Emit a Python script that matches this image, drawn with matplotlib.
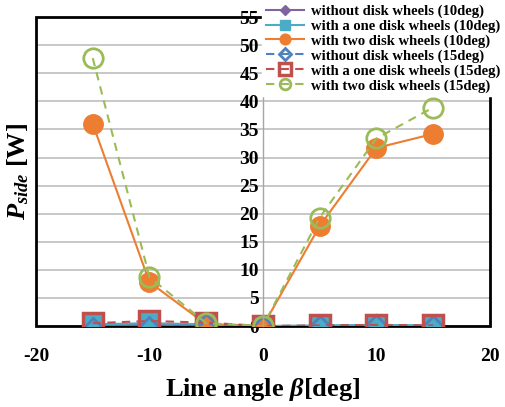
#!/usr/bin/env python3
"""Side power vs line angle for the disk-wheel configurations."""

import matplotlib

matplotlib.use("Agg")
import matplotlib.pyplot as plt
from matplotlib.patches import Rectangle

plt.rcParams["font.family"] = "Liberation Serif"
plt.rcParams["font.weight"] = "bold"
plt.rcParams["axes.labelweight"] = "bold"
plt.rcParams["axes.unicode_minus"] = False
plt.rcParams["mathtext.fontset"] = "custom"
plt.rcParams["mathtext.rm"] = "Liberation Serif:bold"
plt.rcParams["mathtext.it"] = "Liberation Serif:italic:bold"
plt.rcParams["mathtext.bf"] = "Liberation Serif:bold"

# line angle [deg]
angle = [-15, -10, -5, 0, 5, 10, 15]

# P_side [W]
without_10 = [0.1, 0.2, 0.2, 0.0, 0.0, 0.1, 0.0]
one_10 = [0.3, 0.5, 0.3, 0.0, 0.1, 0.2, 0.1]
two_10 = [36.0, 7.8, 0.3, 0.0, 17.8, 31.7, 34.2]
without_15 = [-0.3, -0.2, 0.3, 0.0, 0.0, 0.1, 0.0]
one_15 = [0.5, 0.9, 0.6, 0.0, 0.1, 0.2, 0.1]
two_15 = [47.7, 8.7, 0.5, 0.0, 19.3, 33.4, 38.9]

labels = [
    "without disk wheels (10deg)",
    "with a one disk wheels (10deg)",
    "with two disk wheels (10deg)",
    "without disk wheels (15deg)",
    "with a one disk wheels (15deg)",
    "with two disk wheels (15deg)",
]

x_ticks = [-20, -10, 0, 10, 20]
y_ticks = [0, 5, 10, 15, 20, 25, 30, 35, 40, 45, 50, 55]

fig = plt.figure(figsize=(5.05, 4.07), dpi=100)
ax = fig.add_axes([0.0713, 0.199, 0.8987, 0.759])

ms = 14
ax.plot(angle, without_10, color="#8064A2", lw=1.5, marker="D", ms=ms * 0.6,
        label=labels[0])
ax.plot(angle, one_10, color="#4BACC6", lw=1.5, marker="s", ms=ms,
        label=labels[1])
ax.plot(angle, two_10, color="#ED7D31", lw=1.5, marker="o", ms=ms,
        label=labels[2])
ax.plot(angle, without_15, color="#4F81BD", lw=1.5, ls=(0, (4, 3)), marker="D",
        ms=ms * 0.75, mfc="none", mew=2, label=labels[3])
ax.plot(angle, one_15, color="#C0504D", lw=1.5, ls=(0, (4, 3)), marker="s",
        ms=ms + 1, mfc="none", mew=2.5, label=labels[4])
ax.plot(angle, two_15, color="#9BBB59", lw=1.5, ls=(0, (4, 3)), marker="o",
        ms=ms, mfc="none", mew=2, label=labels[5])

ax.set_xlim(-20, 20)
ax.set_ylim(0, 55)
ax.set_xticks(x_ticks)
ax.set_yticks(y_ticks)
ax.tick_params(length=0, labelsize=14)
ax.tick_params(axis="x", pad=16)
ax.tick_params(axis="y", pad=3)
ax.grid(axis="y", color="#BFBFBF", lw=1.2)
ax.set_axisbelow(True)

# vertical axis sits at x = 0, thin and gray; the plot area gets a black box
ax.spines["left"].set_position(("data", 0))
ax.spines["left"].set_color("#A6A6A6")
ax.spines["left"].set_linewidth(1)
for side in ("top", "right", "bottom"):
    ax.spines[side].set_visible(False)
ax.add_patch(Rectangle((0, 0), 1, 1, transform=ax.transAxes, fill=False,
                       ec="black", lw=2, clip_on=False, zorder=1))

ax.set_xlabel(r"Line angle $\beta$[deg]", fontsize=19, labelpad=8)
ax.set_ylabel(r"$P_{side}$ [W]", fontsize=19)
ax.yaxis.set_label_coords(-0.012, 0.5)

handles, _ = ax.get_legend_handles_labels()
leg = fig.legend(handles, labels, loc="upper right", bbox_to_anchor=(1.0, 1.0),
                 prop={"size": 10.5, "weight": "bold"}, frameon=True,
                 fancybox=False, framealpha=1, edgecolor="white",
                 markerscale=0.55, handlelength=2.6, handletextpad=0.5,
                 labelspacing=0.1, borderpad=0.25, borderaxespad=0.05)

fig.savefig("out.png", dpi=100)
